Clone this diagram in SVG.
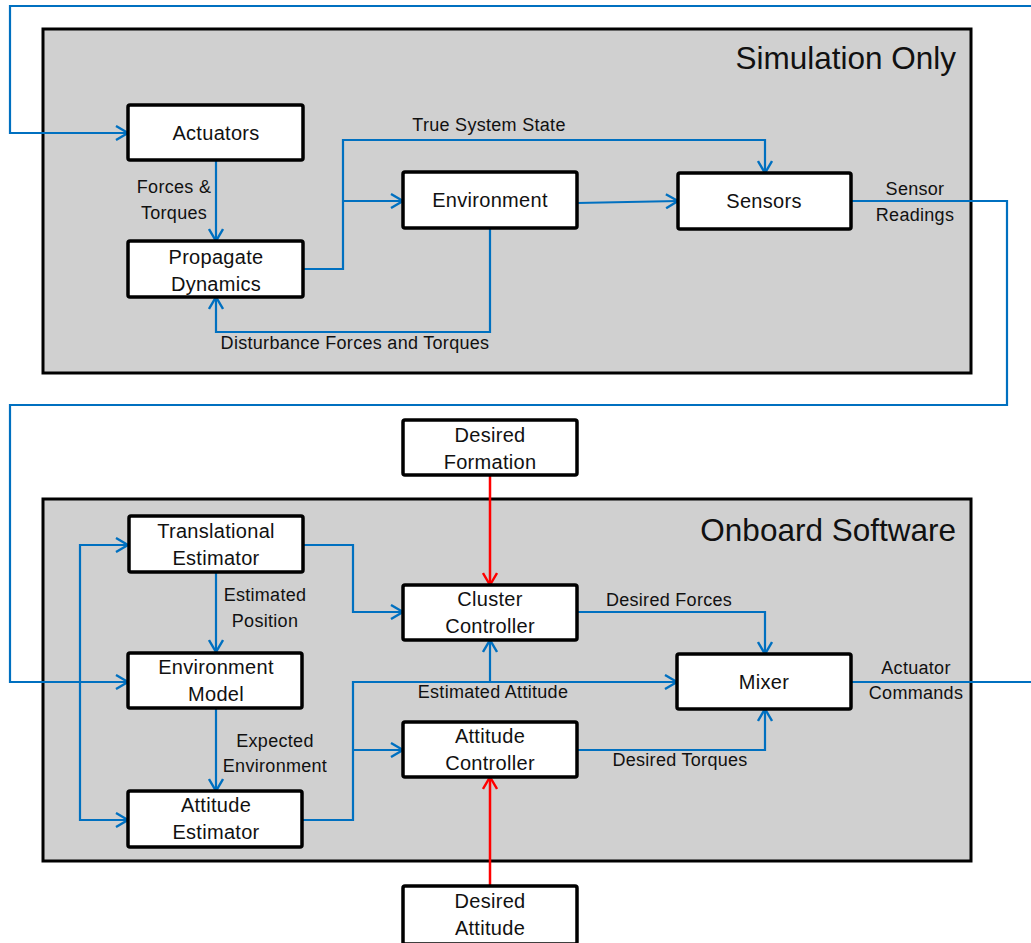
<svg xmlns="http://www.w3.org/2000/svg" width="1031" height="943" viewBox="0 0 1031 943">
<style>
.panel{fill:#d0d0d0;stroke:#000;stroke-width:3}
.node{fill:#fff;stroke:#000;stroke-width:3.5}
.nt{font-family:"Liberation Sans",Arial,sans-serif;font-size:20px;letter-spacing:0.3px;fill:#111;text-anchor:middle}
.lt{font-family:"Liberation Sans",Arial,sans-serif;font-size:18px;letter-spacing:0.3px;fill:#111;text-anchor:middle}
.tt{font-family:"Liberation Sans",Arial,sans-serif;font-size:31.5px;fill:#111;text-anchor:end}
.b{fill:none;stroke:#0070c0;stroke-width:2.2}
.r{fill:none;stroke:#ff0000;stroke-width:2.5}
</style>
<defs>
<marker id="ab" viewBox="0 0 14 16" refX="13" refY="8" markerWidth="14" markerHeight="16" markerUnits="userSpaceOnUse" orient="auto"><path d="M1,1 L13,8 L1,15" fill="none" stroke="#0070c0" stroke-width="2.4"/></marker>
<marker id="ar" viewBox="0 0 14 16" refX="13" refY="8" markerWidth="14" markerHeight="16" markerUnits="userSpaceOnUse" orient="auto"><path d="M1,1 L13,8 L1,15" fill="none" stroke="#ff0000" stroke-width="2.4"/></marker>
</defs>
<rect width="1031" height="943" fill="#fff"/>
<g id="panel-sim"><rect class="panel" x="43" y="29" width="928" height="344"/><text class="tt" x="956" y="69">Simulation Only</text></g>
<g id="panel-onboard"><rect class="panel" x="43" y="499" width="928" height="362"/><text class="tt" x="956" y="541">Onboard Software</text></g>
<g id="connectors">
<path class="b" d="M1031,6 H10 V133 H128" marker-end="url(#ab)"/>
<path class="b" d="M216,160 V241" marker-end="url(#ab)"/>
<path class="b" d="M303,269 H343 V140 H765 V173" marker-end="url(#ab)"/>
<path class="b" d="M343,201 H403" marker-end="url(#ab)"/>
<path class="b" d="M577,203 L678,201" marker-end="url(#ab)"/>
<path class="b" d="M490,228 V332 H216 V297" marker-end="url(#ab)"/>
<path class="b" d="M851,201 H1007 V405 H10 V682 H128" marker-end="url(#ab)"/>
<path class="b" d="M128,545 H80 V820 H128" marker-end="url(#ab)"/>
<path class="b" d="M80,545 H128" marker-end="url(#ab)"/>
<path class="b" d="M303,545 H353 V612 H403" marker-end="url(#ab)"/>
<path class="b" d="M216,572 V652" marker-end="url(#ab)"/>
<path class="b" d="M216,708 V791" marker-end="url(#ab)"/>
<path class="b" d="M302,820 H353 V682 H677" marker-end="url(#ab)"/>
<path class="b" d="M353,750 H403" marker-end="url(#ab)"/>
<path class="b" d="M490,682 V640" marker-end="url(#ab)"/>
<path class="b" d="M577,612 H765 V654" marker-end="url(#ab)"/>
<path class="b" d="M577,750 H765 V709" marker-end="url(#ab)"/>
<path class="b" d="M851,682 H1031"/>
<path class="r" d="M490,475 V585" marker-end="url(#ar)"/>
<path class="r" d="M490,886 V777" marker-end="url(#ar)"/>
<text class="lt" x="174" y="193">Forces &amp;</text>
<text class="lt" x="174" y="219">Torques</text>
<text class="lt" x="489" y="131">True System State</text>
<text class="lt" x="915" y="195">Sensor</text>
<text class="lt" x="915" y="221">Readings</text>
<text class="lt" x="355" y="349">Disturbance Forces and Torques</text>
<text class="lt" x="265" y="601">Estimated</text>
<text class="lt" x="265" y="627">Position</text>
<text class="lt" x="275" y="747">Expected</text>
<text class="lt" x="275" y="772">Environment</text>
<text class="lt" x="669" y="606">Desired Forces</text>
<text class="lt" x="493" y="698">Estimated Attitude</text>
<text class="lt" x="680" y="766">Desired Torques</text>
<text class="lt" x="916" y="674">Actuator</text>
<text class="lt" x="916" y="699">Commands</text>
</g>
<g id="n-actuators"><rect class="node" x="128" y="105" width="175" height="55" rx="2"/><text class="nt" x="216" y="140">Actuators</text></g>
<g id="n-propagate"><rect class="node" x="128" y="241" width="175" height="56" rx="2"/><text class="nt" x="216" y="264">Propagate</text><text class="nt" x="216" y="291">Dynamics</text></g>
<g id="n-environment"><rect class="node" x="403" y="172" width="174" height="56" rx="2"/><text class="nt" x="490" y="207">Environment</text></g>
<g id="n-sensors"><rect class="node" x="678" y="173" width="173" height="56" rx="2"/><text class="nt" x="764" y="208">Sensors</text></g>
<g id="n-desired-formation"><rect class="node" x="403" y="420" width="174" height="55" rx="2"/><text class="nt" x="490" y="442">Desired</text><text class="nt" x="490" y="469">Formation</text></g>
<g id="n-translational"><rect class="node" x="129" y="516" width="174" height="56" rx="2"/><text class="nt" x="216" y="538">Translational</text><text class="nt" x="216" y="565">Estimator</text></g>
<g id="n-envmodel"><rect class="node" x="128" y="653" width="174" height="55" rx="2"/><text class="nt" x="216" y="674">Environment</text><text class="nt" x="216" y="701">Model</text></g>
<g id="n-attest"><rect class="node" x="128" y="791" width="174" height="56" rx="2"/><text class="nt" x="216" y="812">Attitude</text><text class="nt" x="216" y="839">Estimator</text></g>
<g id="n-cluster"><rect class="node" x="403" y="585" width="174" height="55" rx="2"/><text class="nt" x="490" y="606">Cluster</text><text class="nt" x="490" y="633">Controller</text></g>
<g id="n-attctrl"><rect class="node" x="403" y="722" width="174" height="55" rx="2"/><text class="nt" x="490" y="743">Attitude</text><text class="nt" x="490" y="770">Controller</text></g>
<g id="n-mixer"><rect class="node" x="677" y="654" width="174" height="55" rx="2"/><text class="nt" x="764" y="689">Mixer</text></g>
<g id="n-desired-attitude"><rect class="node" x="403" y="886" width="174" height="58" rx="2"/><text class="nt" x="490" y="908">Desired</text><text class="nt" x="490" y="935">Attitude</text></g>
</svg>
